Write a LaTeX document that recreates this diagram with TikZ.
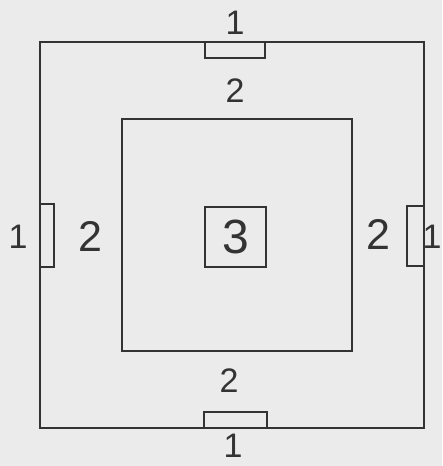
\documentclass[tikz,border=0pt]{standalone}
\usepackage{fontspec}
\setmainfont{Liberation Sans}
\begin{document}
\begin{tikzpicture}[x=1pt,y=-1pt,
  wall/.style={draw=black!80,line width=1.3pt},
  lbl/.style={text=black!80,inner sep=0pt,font=\fontsize{34}{34}\selectfont},
  lblbig/.style={text=black!80,inner sep=0pt,font=\fontsize{43}{43}\selectfont},
  lblhuge/.style={text=black!80,inner sep=0pt,font=\fontsize{48}{48}\selectfont}]
\useasboundingbox (0,0) rectangle (442,466);
\clip (0,0) rectangle (442,466);
\fill[black!8] (0,0) rectangle (442,466);
% outer frame
\draw[wall] (40,42) rectangle (424,428);
% small plates on the outer frame
\draw[wall] (205,42) rectangle (265,58);
\draw[wall] (40,204) rectangle (54,267);
\draw[wall] (407,206) rectangle (424,266);
\draw[wall] (204,412) rectangle (267,428);
% inner square
\draw[wall] (122,119) rectangle (352,351);
% central square
\draw[wall] (205,207) rectangle (266,267);
% labels
\node[lbl] (t1) at (235,23) {1};
\node[lbl] (t2) at (235,91) {2};
\node[lbl] (l1) at (18,237) {1};
\node[lblbig] (l2) at (90,236) {2};
\node[lblbig] (r2) at (378,234) {2};
\node[lbl] (r1) at (432,237) {1};
\node[lbl] (b2) at (229,381) {2};
\node[lbl] (b1) at (233,446) {1};
\node[lblhuge] (c3) at (236,237) {3};
\end{tikzpicture}
\end{document}
